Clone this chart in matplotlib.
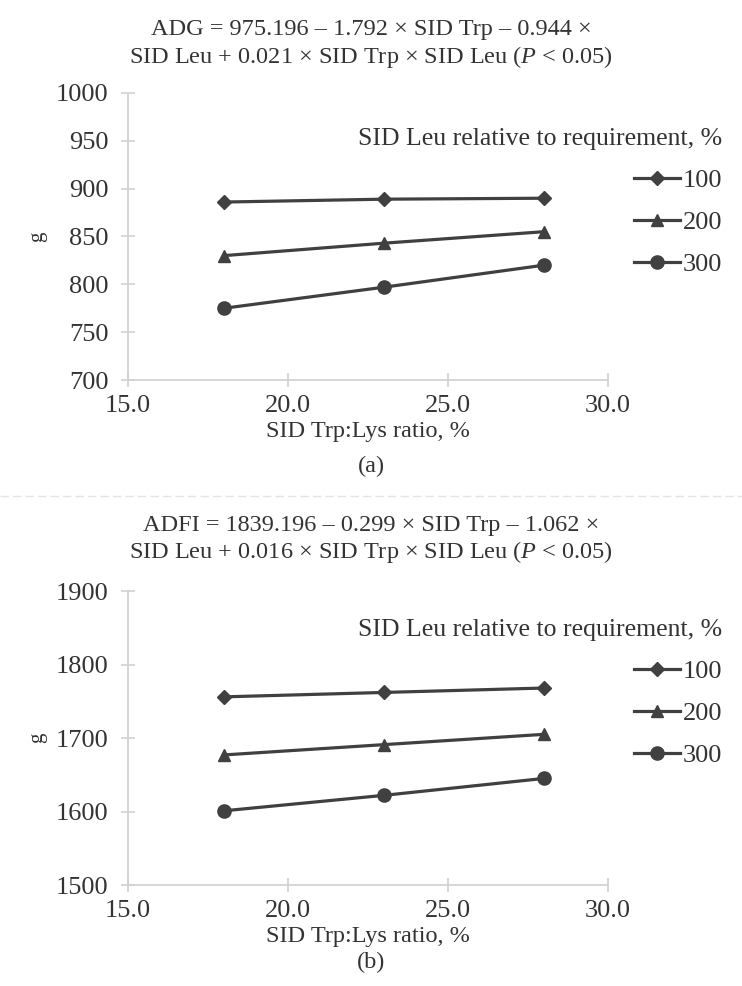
import numpy as np
import matplotlib.pyplot as plt
from matplotlib.lines import Line2D

plt.rcParams['font.family'] = ['Liberation Serif', 'DejaVu Serif']
plt.rcParams['mathtext.fontset'] = 'custom'
plt.rcParams['mathtext.it'] = 'Liberation Serif:italic'
plt.rcParams['mathtext.rm'] = 'Liberation Serif'

trp_ratio = [18, 23, 28]
leu_levels = ["100", "200", "300"]
markers = ['D', '^', 'o']
msizes = [7.5, 8.5, 9.5]

adg = {"100": [886, 889, 890],
       "200": [830, 843, 855],
       "300": [775, 797, 820]}
adfi = {"100": [1756, 1762, 1768],
        "200": [1677, 1691, 1705],
        "300": [1601, 1622, 1645]}

title_a = "ADG = 975.196 \u2013 1.792 \u00d7 SID Trp \u2013 0.944 \u00d7\nSID Leu + 0.021 \u00d7 SID Trp \u00d7 SID Leu ($P$ < 0.05)"
title_b = "ADFI = 1839.196 \u2013 0.299 \u00d7 SID Trp \u2013 1.062 \u00d7\nSID Leu + 0.016 \u00d7 SID Trp \u00d7 SID Leu ($P$ < 0.05)"

line_col = '#404040'
axis_col = '#d0d0d0'
txt_col = '#333333'
FS = 19

fig = plt.figure(figsize=(7.42, 9.86), dpi=100)

panels = [
    dict(data=adg, rect=[0.1725, 0.6146, 0.6465, 0.2911], ylim=(700, 1000),
         yticks=np.arange(700, 1001, 50), title=title_a, tag="(a)",
         title_y=0.981, tag_y=0.527, leg_y=0.870),
    dict(data=adfi, rect=[0.1725, 0.1024, 0.6465, 0.2982], ylim=(1500, 1900),
         yticks=np.arange(1500, 1901, 100), title=title_b, tag="(b)",
         title_y=0.478, tag_y=0.024, leg_y=0.372),
]

for p in panels:
    ax = fig.add_axes(p['rect'])
    for lvl, m, ms in zip(leu_levels, markers, msizes):
        ax.plot(trp_ratio, p['data'][lvl], color=line_col, lw=2.3, marker=m,
                ms=ms, label=lvl, clip_on=False)
    ax.set_xlim(15, 30)
    ax.set_ylim(*p['ylim'])
    ax.set_xticks([15, 20, 25, 30])
    ax.set_xticklabels(["15.0", "20.0", "25.0", "30.0"])
    ax.set_yticks(p['yticks'])
    for s in ['top', 'right']:
        ax.spines[s].set_visible(False)
    for s in ['left', 'bottom']:
        ax.spines[s].set_color(axis_col)
        ax.spines[s].set_linewidth(1.2)
    ax.tick_params(direction='inout', length=10, width=1.2, color=axis_col,
                   labelsize=FS, labelcolor=txt_col)
    ax.tick_params(axis='x', pad=6)
    ax.tick_params(axis='y', pad=9)
    ax.set_xlabel("SID Trp:Lys ratio, %", fontsize=17.5, color=txt_col, labelpad=3)
    ax.set_ylabel("g", fontsize=15, color=txt_col, labelpad=6)
    ax.set_facecolor('none')

    fig.text(0.5, p['title_y'], p['title'], ha='center', va='top',
             fontsize=17.5, color=txt_col, linespacing=1.2)
    fig.text(0.5, p['tag_y'], p['tag'], ha='center', va='center',
             fontsize=17.5, color=txt_col)

    leg = ax.legend(title="SID Leu relative to requirement, %", loc='upper right',
                    bbox_to_anchor=(0.973, p['leg_y']), bbox_transform=fig.transFigure,
                    frameon=False, fontsize=FS, title_fontsize=18.5,
                    handlelength=1.75, handletextpad=0.08, labelspacing=0.7,
                    borderpad=0, borderaxespad=0, alignment='right')
    leg.get_title().set_color(txt_col)
    for t in leg.get_texts():
        t.set_color(txt_col)

# faint scan separator between the two panels
fig.add_artist(Line2D([0.0, 1.0], [0.497, 0.497], transform=fig.transFigure,
                      color='#e4e4e4', lw=1.0, ls=(0, (6, 3))))

fig.savefig("out.png", dpi=100)
